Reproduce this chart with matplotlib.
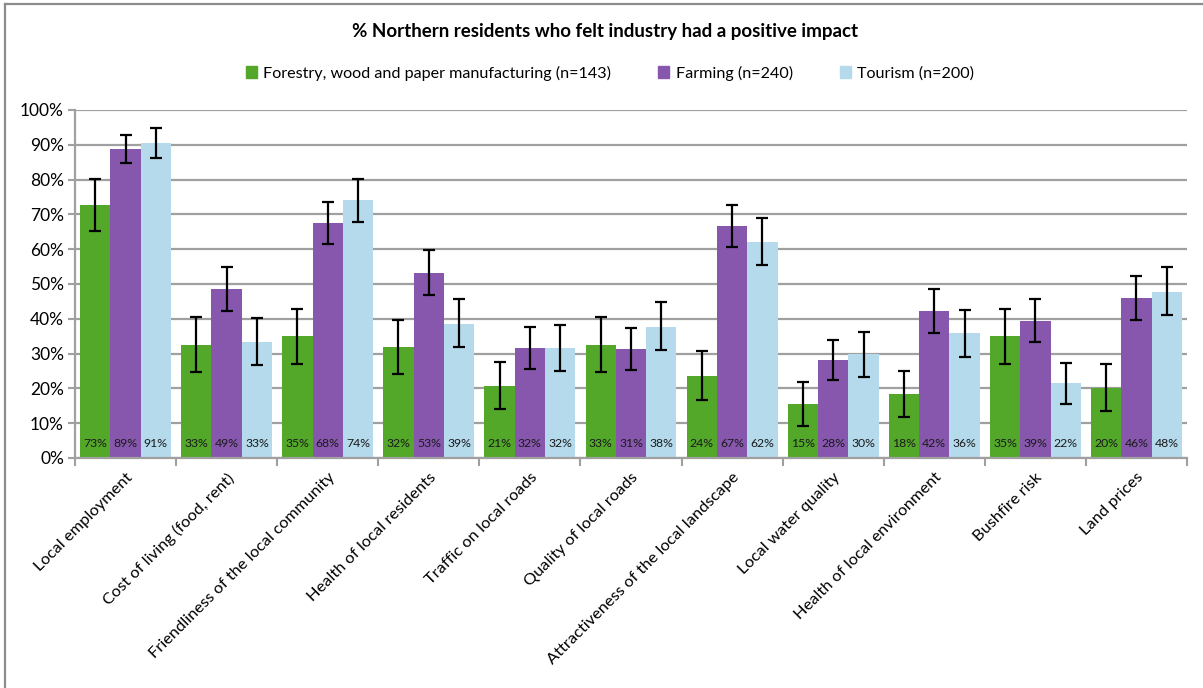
import numpy as np
import matplotlib.pyplot as plt
from matplotlib.lines import Line2D
from matplotlib.patches import Patch

plt.rcParams['font.family'] = ['Lato', 'DejaVu Sans']

categories = ["Local employment", "Cost of living (food, rent)",
              "Friendliness of the local community", "Health of local residents",
              "Traffic on local roads", "Quality of local roads",
              "Attractiveness of the local landscape", "Local water quality",
              "Health of local environment", "Bushfire risk", "Land prices"]
series_names = ["Forestry, wood and paper manufacturing (n=143)",
                "Farming (n=240)", "Tourism (n=200)"]

forestry = [72.6, 32.6, 35.0, 31.9, 20.8, 32.6, 23.6, 15.4, 18.3, 35.0, 20.1]
forestry_lo = [65.2, 24.6, 26.9, 24.1, 14.0, 24.6, 16.6, 9.3, 11.8, 26.9, 13.5]
forestry_hi = [80.2, 40.4, 42.9, 39.6, 27.7, 40.4, 30.8, 21.7, 25.0, 42.9, 26.9]

farming = [88.7, 48.6, 67.5, 53.3, 31.7, 31.2, 66.6, 28.2, 42.3, 39.4, 46.0]
farming_lo = [84.7, 42.1, 61.5, 46.9, 25.7, 25.2, 60.5, 22.3, 36.0, 33.2, 39.6]
farming_hi = [92.9, 54.9, 73.6, 59.7, 37.6, 37.3, 72.6, 34.0, 48.6, 45.8, 52.4]

tourism = [90.6, 33.3, 74.1, 38.6, 31.6, 37.7, 62.1, 29.8, 35.8, 21.6, 47.7]
tourism_lo = [86.2, 26.7, 67.7, 31.9, 24.9, 31.0, 55.4, 23.4, 29.0, 15.6, 41.0]
tourism_hi = [94.7, 40.1, 80.2, 45.8, 38.1, 44.7, 69.0, 36.3, 42.6, 27.2, 54.9]

colors = ["#53A82A", "#8757AE", "#B4DAEC"]
grey = "#A0A0A0"

W, H = 1203, 688
fig = plt.figure(figsize=(W / 100, H / 100), dpi=100)
ax = fig.add_axes([75 / W, 1 - 458 / H, (1187 - 75) / W, (458 - 110) / H])

x = np.arange(len(categories))
w = 0.3
data = [(forestry, forestry_lo, forestry_hi),
        (farming, farming_lo, farming_hi),
        (tourism, tourism_lo, tourism_hi)]

for i, (vals, lo, hi) in enumerate(data):
    vals = np.array(vals)
    err = [vals - np.array(lo), np.array(hi) - vals]
    xs = x + (i - 1) * w
    ax.bar(xs, vals, width=w, color=colors[i], zorder=2)
    ax.errorbar(xs, vals, yerr=err, fmt="none", ecolor="black",
                elinewidth=1.6, capsize=4, capthick=1.6, zorder=3)
    for xi, v in zip(xs, vals):
        ax.text(xi, 4.3, "%d%%" % int(v + 0.5), ha="center", va="center",
                fontsize=8.8, color="#1a1a1a", zorder=4)

ax.set_ylim(0, 100)
ax.set_xlim(-0.5, len(categories) - 0.5)
ax.set_yticks(np.arange(0, 101, 10))
ax.set_yticklabels(["%d%%" % v for v in range(0, 101, 10)], fontsize=12.5)
ax.yaxis.grid(True, color=grey, linewidth=1.6, zorder=0)
ax.set_axisbelow(True)

ax.set_xticks(np.arange(len(categories) + 1) - 0.5)
ax.set_xticklabels([])
ax.set_xticks(x, minor=True)
ax.set_xticklabels(categories, minor=True, rotation=45, ha="right",
                   va="top", rotation_mode="anchor", fontsize=11.8)
ax.tick_params(axis="x", which="major", length=6, width=1.5, color=grey)
ax.tick_params(axis="x", which="minor", length=0, pad=9)
ax.tick_params(axis="y", length=5, width=1.5, color=grey, pad=3)

for s in ["top", "right"]:
    ax.spines[s].set_visible(False)
for s in ["left", "bottom"]:
    ax.spines[s].set_color(grey)
    ax.spines[s].set_linewidth(1.6)

fig.text(605 / W, 1 - 31 / H, "% Northern residents who felt industry had a positive impact",
         ha="center", va="center", fontsize=13.5, fontweight="bold")

handles = [Patch(color=c) for c in colors]
fig.legend(handles, series_names, loc="center", bbox_to_anchor=(610 / W, 1 - 73 / H),
           ncol=3, frameon=False, fontsize=11.6, handlelength=0.7, handleheight=0.7,
           handletextpad=0.4, columnspacing=2.9)

fig.add_artist(Line2D([5 / W, 1], [1 - 4 / H, 1 - 4 / H], transform=fig.transFigure,
                      color="#8c8c8c", linewidth=1.6))
fig.add_artist(Line2D([5 / W, 5 / W], [0, 1 - 4 / H], transform=fig.transFigure,
                      color="#8c8c8c", linewidth=1.6))

plt.savefig("out.png", dpi=100)
plt.close()
